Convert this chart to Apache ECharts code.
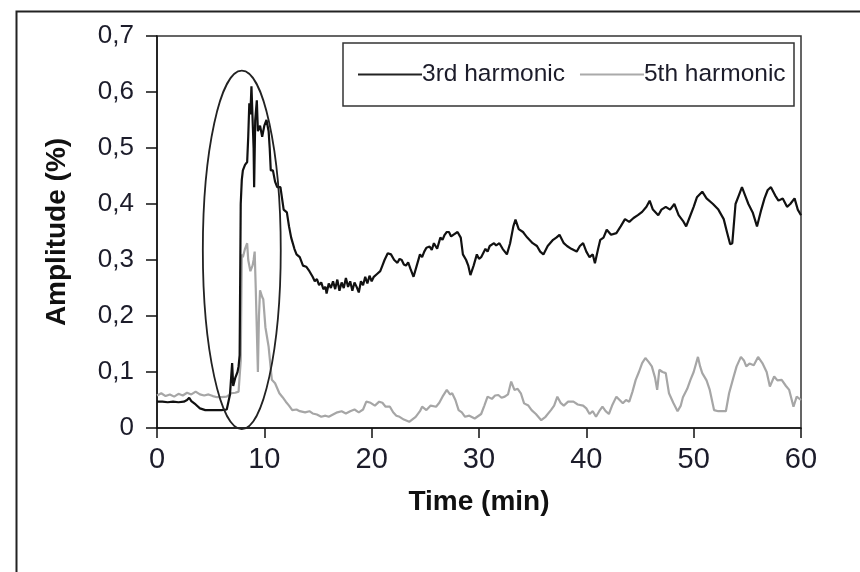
<!DOCTYPE html>
<html>
<head>
<meta charset="utf-8">
<script src="https://cdn.jsdelivr.net/npm/echarts@6/dist/echarts.min.js"></script>
<style>html,body{margin:0;padding:0;background:#fff}#c{width:860px;height:572px}</style>
</head>
<body>
<div id="c"></div>
<script>
// ---- data ----
const seriesNames = ['3rd harmonic', '5th harmonic'];
const xTicks = [0, 10, 20, 30, 40, 50, 60];
const yTicks = ['0', '0,1', '0,2', '0,3', '0,4', '0,5', '0,6', '0,7'];

const time3 = [0,0.5,1,1.5,2,2.5,2.8,3.0,3.2,3.6,4.0,4.5,5,5.5,6,6.5,6.8,7.0,7.1,7.3,7.5,7.6,7.7,7.8,7.9,8.0,8.2,8.4,8.5,8.6,8.7,8.8,8.9,9.0,9.05,9.15,9.3,9.4,9.6,9.8,10.0,10.2,10.4,10.5,10.6,10.8,11.0,11.2,11.5,11.8,12.1,12.3,12.5,12.8,13.0,13.3,13.6,13.9,14.2,14.5,14.7,14.9,15.1,15.3,15.5,15.7,15.8,16.0,16.2,16.4,16.6,16.8,17.0,17.2,17.4,17.6,17.8,18.0,18.2,18.4,18.6,18.8,19.0,19.2,19.4,19.6,19.8,20.0,20.2,20.5,20.8,21.0,21.2,21.5,21.8,22.1,22.4,22.6,22.8,23.0,23.2,23.4,23.6,23.9,24.2,24.5,24.7,24.9,25.1,25.4,25.6,25.8,26.1,26.4,26.6,26.8,27.0,27.2,27.4,27.6,28.0,28.3,28.5,28.8,29.0,29.2,29.5,29.8,30.0,30.2,30.6,30.8,31.0,31.4,31.6,31.9,32.2,32.6,32.9,33.2,33.4,33.7,34.1,34.3,34.5,35.0,35.4,35.7,36.0,36.4,36.9,37.2,37.5,37.9,38.2,38.6,39.1,39.4,39.7,40.0,40.3,40.6,40.8,41.1,41.3,41.6,41.9,42.3,42.8,43.2,43.6,44.0,44.4,44.8,45.2,45.6,45.9,46.2,46.7,47.0,47.4,47.8,48.2,48.6,49.0,49.3,49.6,50.0,50.3,50.8,51.2,51.8,52.3,52.8,53.1,53.4,53.6,53.9,54.2,54.5,54.8,55.1,55.5,55.9,56.3,56.6,56.9,57.2,57.6,57.9,58.3,58.7,59.0,59.4,59.7,60];
const amp3 = [0.047,0.047,0.046,0.047,0.046,0.047,0.05,0.054,0.048,0.042,0.035,0.032,0.032,0.032,0.032,0.033,0.06,0.116,0.075,0.09,0.10,0.11,0.13,0.40,0.443,0.46,0.47,0.475,0.52,0.58,0.56,0.61,0.612,0.50,0.43,0.55,0.585,0.53,0.54,0.52,0.54,0.55,0.53,0.50,0.46,0.46,0.44,0.43,0.43,0.39,0.385,0.36,0.34,0.32,0.31,0.305,0.29,0.288,0.28,0.27,0.262,0.266,0.255,0.26,0.248,0.252,0.24,0.258,0.25,0.262,0.248,0.265,0.245,0.26,0.25,0.268,0.252,0.262,0.245,0.26,0.252,0.242,0.262,0.255,0.27,0.258,0.272,0.262,0.27,0.275,0.28,0.29,0.30,0.312,0.31,0.30,0.295,0.302,0.30,0.292,0.29,0.296,0.285,0.27,0.29,0.31,0.305,0.315,0.322,0.324,0.318,0.33,0.32,0.34,0.336,0.345,0.35,0.35,0.342,0.345,0.35,0.34,0.31,0.30,0.29,0.273,0.29,0.31,0.302,0.305,0.32,0.315,0.325,0.33,0.326,0.33,0.32,0.31,0.33,0.36,0.372,0.355,0.35,0.345,0.34,0.33,0.325,0.315,0.31,0.325,0.336,0.34,0.345,0.33,0.325,0.32,0.315,0.325,0.33,0.315,0.305,0.31,0.294,0.32,0.336,0.34,0.354,0.345,0.348,0.36,0.373,0.368,0.375,0.38,0.386,0.395,0.406,0.39,0.38,0.39,0.395,0.39,0.40,0.38,0.37,0.36,0.375,0.395,0.412,0.422,0.41,0.40,0.39,0.373,0.35,0.328,0.33,0.40,0.415,0.43,0.415,0.40,0.385,0.36,0.39,0.41,0.425,0.43,0.415,0.406,0.41,0.395,0.40,0.41,0.39,0.38];

const time5 = [0,0.4,0.8,1.2,1.6,2.0,2.4,2.8,3.2,3.6,4.0,4.4,4.8,5.2,5.6,6.0,6.5,6.9,7.3,7.6,7.8,7.9,8.0,8.2,8.4,8.5,8.7,8.9,9.0,9.1,9.2,9.4,9.5,9.6,9.8,9.9,10.1,10.4,10.7,11.0,11.4,11.7,12.0,12.3,12.6,13.0,13.3,13.8,14.2,14.5,14.9,15.3,15.7,16.0,16.4,16.8,17.2,17.6,18.0,18.4,18.8,19.2,19.5,19.9,20.3,20.7,21.0,21.3,21.7,22.0,22.3,22.6,23.0,23.5,24.1,24.5,24.7,25.1,25.5,26.0,26.3,26.6,27.0,27.3,27.5,27.8,28.1,28.4,28.7,29.1,29.6,30.2,30.5,30.8,31.2,31.5,31.8,32.1,32.4,32.7,33.0,33.3,33.6,33.9,34.2,34.6,34.9,35.3,35.8,36.2,36.7,37.0,37.3,37.6,37.9,38.3,38.8,39.2,39.7,40.0,40.3,40.6,40.9,41.2,41.5,41.8,42.1,42.4,42.8,43.1,43.4,43.7,44.0,44.3,44.6,44.9,45.2,45.5,45.8,46.1,46.4,46.6,46.8,47.1,47.4,47.7,48.1,48.5,48.8,49.0,49.4,49.7,50.0,50.4,50.6,50.8,51.2,51.5,51.9,52.3,52.7,53.0,53.3,53.7,54.0,54.4,54.7,54.9,55.2,55.6,56.0,56.4,56.8,57.1,57.5,57.8,58.2,58.6,58.9,59.3,59.6,60];
const amp5 = [0.058,0.062,0.057,0.06,0.056,0.061,0.058,0.063,0.06,0.065,0.06,0.058,0.06,0.057,0.055,0.055,0.056,0.062,0.063,0.065,0.12,0.31,0.305,0.32,0.33,0.30,0.28,0.29,0.30,0.315,0.25,0.10,0.20,0.246,0.234,0.23,0.18,0.145,0.086,0.08,0.062,0.055,0.047,0.04,0.032,0.033,0.03,0.028,0.03,0.026,0.024,0.02,0.022,0.02,0.024,0.028,0.03,0.026,0.03,0.033,0.028,0.033,0.047,0.045,0.04,0.047,0.045,0.038,0.038,0.028,0.022,0.02,0.015,0.011,0.02,0.03,0.038,0.032,0.04,0.038,0.045,0.056,0.068,0.06,0.062,0.05,0.032,0.028,0.02,0.022,0.017,0.025,0.04,0.056,0.052,0.058,0.059,0.054,0.056,0.06,0.083,0.068,0.07,0.062,0.044,0.04,0.032,0.025,0.014,0.02,0.032,0.04,0.056,0.045,0.04,0.047,0.047,0.042,0.04,0.035,0.025,0.03,0.02,0.03,0.038,0.03,0.025,0.04,0.056,0.05,0.044,0.05,0.047,0.065,0.086,0.10,0.116,0.125,0.118,0.11,0.09,0.068,0.104,0.10,0.098,0.062,0.045,0.03,0.04,0.055,0.07,0.086,0.10,0.127,0.11,0.098,0.085,0.068,0.032,0.03,0.03,0.03,0.062,0.09,0.11,0.127,0.12,0.11,0.115,0.112,0.127,0.116,0.1,0.074,0.092,0.085,0.086,0.075,0.068,0.038,0.056,0.05];

// highlighted region (annotation ellipse) in data units
const ellipseCenter = [7.9, 0.318];
const ellipseRadius = [3.63, 0.32];

// ---- chart ----
const FONT = '"Liberation Sans", Arial, sans-serif';
const chart = echarts.init(document.getElementById('c'), null, {renderer: 'canvas'});
const zip = (t, v) => t.map((x, i) => [x, v[i]]);

chart.setOption({
  animation: false,
  backgroundColor: '#fff',
  grid: {left: 157, right: 59, top: 36, bottom: 144, show: true, borderColor: '#333', borderWidth: 1.5, backgroundColor: 'transparent'},
  legend: {
    left: 353, top: 57, itemWidth: 64, itemHeight: 2, itemGap: 15, icon: 'rect',
    textStyle: {fontFamily: FONT, fontSize: 24.5, color: '#1c1c2a', padding: [0, 0, 0, -5]},
    data: [
      {name: seriesNames[0], itemStyle: {color: '#222'}},
      {name: seriesNames[1], itemStyle: {color: '#aaa'}}
    ]
  },
  xAxis: {
    type: 'value', min: 0, max: 60, interval: 10,
    name: 'Time (min)', nameLocation: 'middle', nameGap: 60,
    nameTextStyle: {fontFamily: FONT, fontSize: 28, fontWeight: 'bold', color: '#111'},
    axisLine: {lineStyle: {color: '#111', width: 1.5}},
    axisTick: {show: true, inside: false, length: 10, lineStyle: {color: '#111', width: 1.5}},
    axisLabel: {fontFamily: FONT, fontSize: 29, color: '#1c1c2a', margin: 17,
      formatter: v => String(xTicks[xTicks.indexOf(v)] ?? v)},
    splitLine: {show: false}
  },
  yAxis: {
    type: 'value', min: 0, max: 0.7, interval: 0.1,
    name: 'Amplitude (%)', nameLocation: 'middle', nameGap: 86,
    nameTextStyle: {fontFamily: FONT, fontSize: 28, fontWeight: 'bold', color: '#111'},
    axisLine: {show: true, lineStyle: {color: '#111', width: 1.5}},
    axisTick: {show: true, inside: false, length: 11, lineStyle: {color: '#111', width: 1.5}},
    axisLabel: {fontFamily: FONT, fontSize: 26, color: '#1c1c2a', margin: 23,
      formatter: v => yTicks[Math.round(v * 10)]},
    splitLine: {show: false}
  },
  series: [
    {name: seriesNames[0], type: 'line', data: zip(time3, amp3), showSymbol: false, symbol: 'none',
     lineStyle: {color: '#111', width: 2.2}, itemStyle: {color: '#222'}, z: 3},
    {name: seriesNames[1], type: 'line', data: zip(time5, amp5), showSymbol: false, symbol: 'none',
     lineStyle: {color: '#a6a6a6', width: 2.2}, itemStyle: {color: '#aaa'}, z: 2}
  ]
});

// annotation ellipse + frames
const c = chart.convertToPixel({gridIndex: 0}, ellipseCenter);
const e = chart.convertToPixel({gridIndex: 0}, [ellipseCenter[0] + ellipseRadius[0], ellipseCenter[1] + ellipseRadius[1]]);
chart.setOption({
  graphic: [
    {type: 'rect', left: 14, top: 9, shape: {x: 0, y: 0, width: 900, height: 700},
     style: {fill: 'none', stroke: '#222', lineWidth: 2}, silent: true},
    {type: 'rect', shape: {x: 343, y: 43, width: 451, height: 63},
     style: {fill: 'none', stroke: '#333', lineWidth: 1.5}, silent: true},
    {type: 'ellipse', shape: {cx: c[0], cy: c[1], rx: Math.abs(e[0] - c[0]), ry: Math.abs(c[1] - e[1])},
     style: {fill: 'none', stroke: '#222', lineWidth: 1.8}, silent: true, z: 10}
  ]
});
</script>
</body>
</html>
